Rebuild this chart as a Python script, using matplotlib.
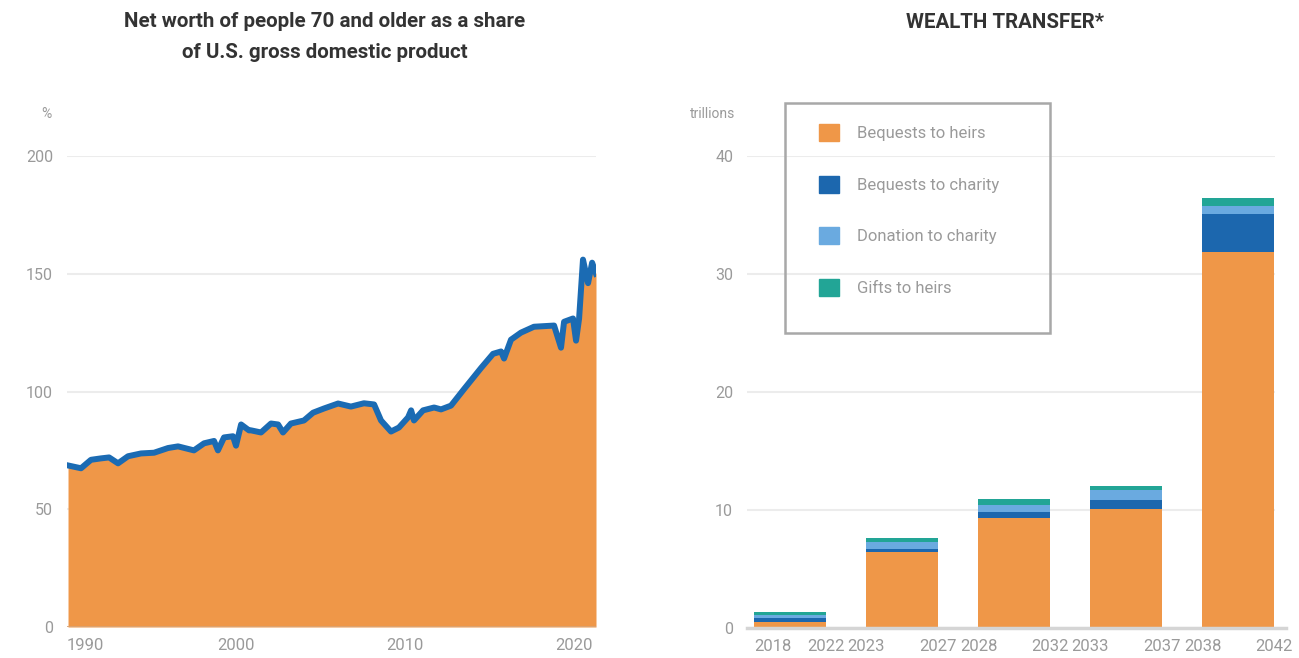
import matplotlib.pyplot as plt
from matplotlib.patches import Patch, Rectangle
import numpy as np

plt.rcParams['font.family'] = ['Roboto', 'DejaVu Sans']

# left chart: net worth of people 70+ as % of GDP
years = [1990.06, 1990.83, 1991.42, 1992.01, 1992.49, 1993.02, 1993.61, 1994.38,
         1995.15, 1995.98, 1996.57, 1997.51, 1998.11, 1998.70, 1998.93, 1999.29,
         1999.82, 2000.00, 2000.30, 2000.77, 2000.89, 2001.48, 2002.07, 2002.49,
         2002.78, 2003.25, 2004.02, 2004.56, 2005.21, 2006.04, 2006.80, 2007.57,
         2008.17, 2008.58, 2009.17, 2009.64, 2010.18, 2010.36, 2010.53, 2011.07,
         2011.72, 2012.13, 2012.72, 2013.49, 2014.50, 2015.21, 2015.68, 2015.86,
         2016.27, 2016.86, 2017.63, 2018.82, 2019.23, 2019.41, 2019.94, 2020.12,
         2020.30, 2020.53, 2020.83, 2021.07, 2021.30]
share = [68.6, 67.4, 71.0, 71.6, 72.0, 69.5, 72.5, 73.7,
         74.0, 76.0, 76.7, 75.0, 78.0, 79.0, 75.0, 80.5,
         81.0, 77.0, 86.0, 83.5, 83.5, 82.6, 86.4, 86.0,
         82.6, 86.4, 87.7, 91.0, 92.8, 94.9, 93.6, 95.0,
         94.5, 87.7, 83.0, 84.7, 89.0, 92.0, 87.7, 92.0,
         93.2, 92.4, 94.0, 101.0, 110.0, 116.0, 117.0, 114.0,
         122.0, 125.0, 127.5, 128.0, 118.6, 129.6, 131.0, 121.6,
         131.0, 156.0, 146.0, 154.7, 150.0]
left_yticks = [0, 50, 100, 150, 200]
left_xticks = [1990, 2000, 2010, 2020]

# right chart: wealth transfer, trillions
periods = [("2018", "2022"), ("2023", "2027"), ("2028", "2032"),
           ("2033", "2037"), ("2038", "2042")]
heirs = [0.5, 6.4, 9.3, 10.1, 31.9]
charity_bequests = [0.35, 0.3, 0.5, 0.75, 3.2]
charity_donations = [0.25, 0.55, 0.65, 0.85, 0.7]
gifts = [0.25, 0.4, 0.45, 0.35, 0.6]
series_names = ["Bequests to heirs", "Bequests to charity",
                "Donation to charity", "Gifts to heirs"]
right_yticks = [0, 10, 20, 30, 40]

ORANGE = '#EF9748'
LINE_BLUE = '#1B6BB3'
DARK_BLUE = '#1C67AE'
LIGHT_BLUE = '#6AAAE0'
TEAL = '#22A596'
GRID = '#ECECEC'
GRAY_TXT = '#9A9A9A'
TITLE = '#333333'

W, H = 1299, 658
fig = plt.figure(figsize=(W / 100, H / 100), dpi=100)

# ---- left panel ----
ax1 = fig.add_axes([67 / W, 31 / H, 529 / W, 471 / H])
ax1.fill_between(years, share, 0, color=ORANGE, lw=0, zorder=2)
ax1.plot(years, share, color=LINE_BLUE, lw=4.3, solid_joinstyle='round', zorder=3)
ax1.set_xlim(years[0], years[-1])
ax1.set_ylim(0, 200)
ax1.set_yticks(left_yticks)
ax1.set_xticks(left_xticks)
ax1.set_xticklabels([str(t) for t in left_xticks])
ax1.get_xticklabels()[0].set_ha('left')
ax1.grid(axis='y', color=GRID, lw=1.5, zorder=0)
for s in ax1.spines.values():
    s.set_visible(False)
ax1.axhline(0, color='#D9A577', lw=2, zorder=4)
ax1.tick_params(length=0, colors=GRAY_TXT)
ax1.tick_params(axis='y', pad=10, labelsize=11.5)
ax1.tick_params(axis='x', pad=8, labelsize=12)
fig.text(52 / W, 1 - 114 / H, "%", ha='right', va='center', color=GRAY_TXT, fontsize=10)
fig.text(325 / W, 1 - 37 / H,
         "Net worth of people 70 and older as a share\nof U.S. gross domestic product",
         ha='center', va='center', color=TITLE, fontsize=14.8, fontweight='bold',
         linespacing=1.74)

# ---- right panel ----
ax2 = fig.add_axes([747 / W, 30 / H, 528 / W, 472 / H])
x = np.arange(len(periods))
bw = 0.635
bottom = np.zeros(len(periods))
for vals, col, name in zip([heirs, charity_bequests, charity_donations, gifts],
                           [ORANGE, DARK_BLUE, LIGHT_BLUE, TEAL], series_names):
    ax2.bar(x, vals, bw, bottom=bottom, color=col, label=name, zorder=2)
    bottom += np.array(vals)
ax2.set_xlim(-0.384, 4.33)
ax2.set_ylim(0, 40)
ax2.set_yticks(right_yticks)
ax2.grid(axis='y', color=GRID, lw=1.5, zorder=0)
for s in ax2.spines.values():
    s.set_visible(False)
ax2.axhline(0, xmin=0.0, xmax=1.02, color='#D5D5D5', lw=2.5, zorder=3, clip_on=False)

tick_pos = []
tick_lab = []
for i, (a, b) in enumerate(periods):
    tick_pos += [i - bw / 2, i + bw / 2]
    tick_lab += [a, b]
ax2.set_xticks(tick_pos)
ax2.set_xticklabels(tick_lab)
ax2.get_xticklabels()[0].set_ha('left')
ax2.tick_params(length=0, colors=GRAY_TXT)
ax2.tick_params(axis='y', pad=10, labelsize=11.5)
ax2.tick_params(axis='x', pad=8, labelsize=12)
fig.text(735 / W, 1 - 114 / H, "trillions", ha='right', va='center',
         color=GRAY_TXT, fontsize=10)
fig.text(1005 / W, 1 - 22 / H, "WEALTH TRANSFER*", ha='center', va='center',
         color=TITLE, fontsize=14.8, fontweight='bold')

# legend: box drawn separately, entries placed inside it
fig.patches.append(Rectangle((785 / W, 1 - 333 / H), 265 / W, 230 / H,
                             transform=fig.transFigure, fill=False,
                             edgecolor='#A8A8A8', lw=1.8))
handles = [Patch(color=c) for c in [ORANGE, DARK_BLUE, LIGHT_BLUE, TEAL]]
leg = fig.legend(handles, series_names, loc='upper left',
                 bbox_to_anchor=(819 / W, 1 - 124 / H),
                 frameon=False, fontsize=12, labelcolor=GRAY_TXT,
                 labelspacing=2.07, borderpad=0, borderaxespad=0,
                 handlelength=1.2, handleheight=1.2, handletextpad=1.1)

fig.savefig('out.png', dpi=100)
